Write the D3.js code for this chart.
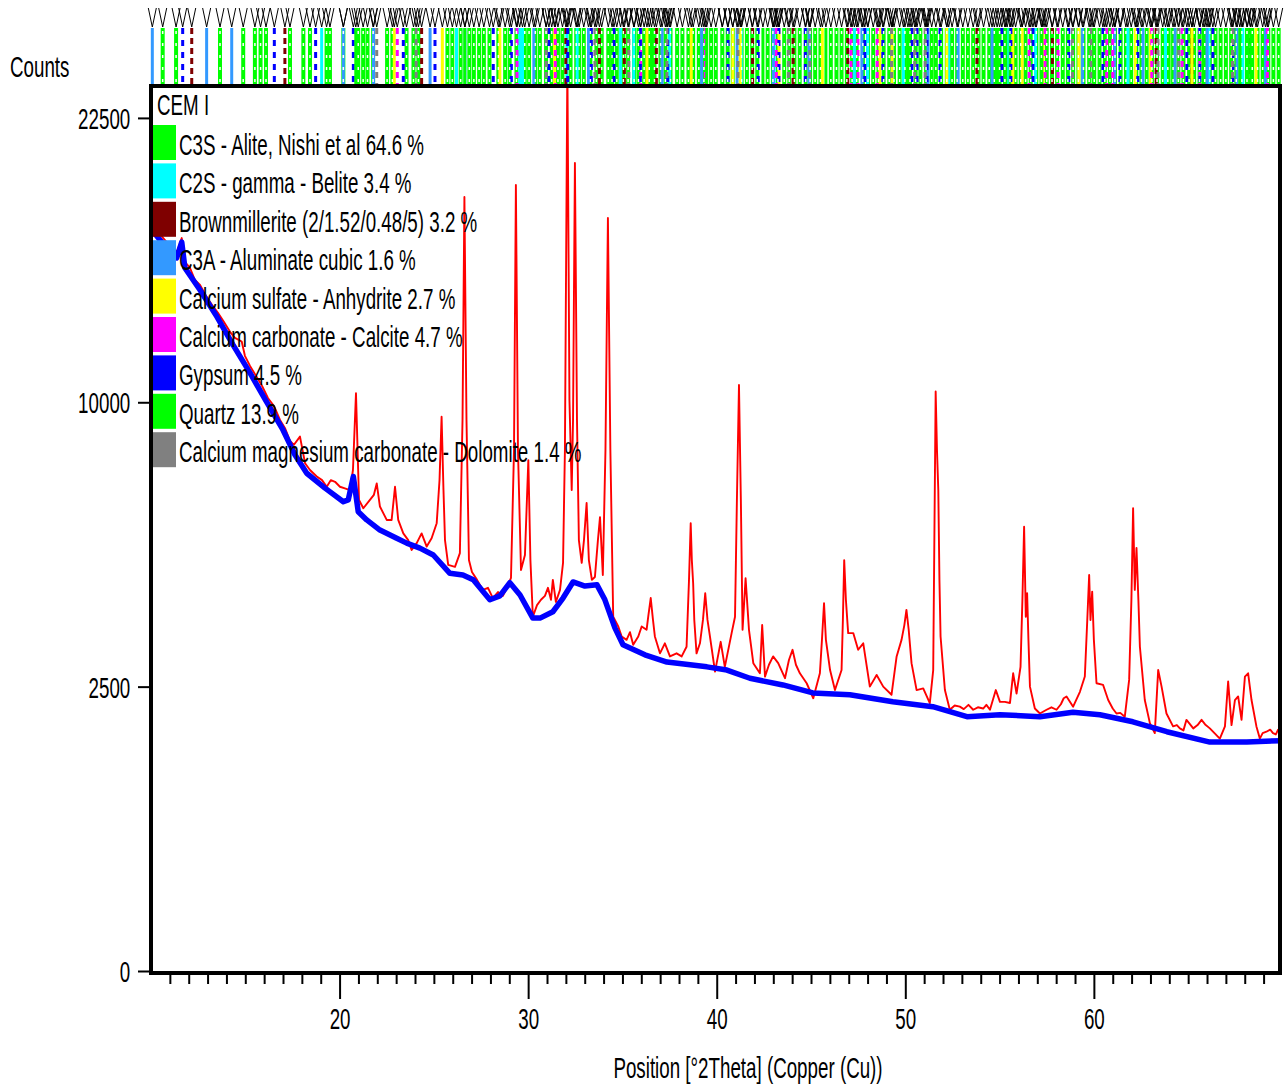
<!DOCTYPE html>
<meta charset="utf-8">
<style>
 body { margin: 0; background: #fff; }
 svg { display: block; background: #fff; }
 text { font-family: "Liberation Sans", Arial, sans-serif; font-size: 29.5px; fill: #000; }
 .observed { fill: none; stroke: #ff0000; stroke-width: 1.9px; stroke-linejoin: round; }
 .background { fill: none; stroke: #0000ff; stroke-width: 5.5px; stroke-linejoin: round; stroke-linecap: round; }
 .tick line { stroke: #000; stroke-width: 2px; }
</style>
<svg width="1288" height="1084"></svg>
<script src="https://d3js.org/d3.v7.min.js"></script>
<script>

 // measured pattern, [2theta, counts]
 var observed = [
  [10.00,17160],[10.37,16890],[10.74,16520],[11.11,16160],[11.38,15990],[11.63,16610],[11.80,15540],[12.07,15280],
  [12.33,14760],[12.60,14550],[12.92,14090],[13.23,13720],[13.55,13390],[13.87,13020],[14.19,12630],[14.45,12390],
  [14.81,12250],[14.98,11700],[15.25,11320],[15.57,10950],[15.89,10580],[16.20,10150],[16.52,9870],[16.84,9390],
  [17.10,9120],[17.37,8690],[17.58,8560],[17.90,8830],[18.17,7970],[18.43,7760],[18.79,7560],[19.07,7450],
  [19.32,7250],[19.54,7450],[19.76,7400],[20.02,7250],[20.28,7200],[20.55,7150],[20.71,7760],[20.87,10320],
  [21.03,6860],[21.26,6620],[21.61,6860],[21.82,7010],[21.97,7350],[22.14,6670],[22.50,6290],[22.76,6290],
  [22.94,7250],[23.11,6290],[23.38,5920],[23.64,5740],[23.82,5480],[24.09,5660],[24.35,5920],[24.62,5570],
  [24.88,5790],[25.15,6200],[25.30,7450],[25.41,9500],[25.51,7150],[25.59,5740],[25.76,5100],[26.12,5050],
  [26.38,5400],[26.52,9390],[26.62,18520],[26.73,9390],[26.86,5220],[27.02,4920],[27.29,4730],[27.60,4490],
  [27.87,4540],[28.13,4300],[28.40,4440],[28.66,4350],[28.88,4540],[29.09,4780],[29.25,8390],[29.35,19100],
  [29.46,8390],[29.62,4970],[29.83,5350],[30.01,8070],[30.12,5220],[30.25,3880],[30.47,4140],[30.68,4260],
  [30.89,4350],[31.05,4540],[31.21,4260],[31.31,4730],[31.47,4210],[31.69,4490],[31.85,5150],[31.95,8390],
  [32.08,25500],[32.19,10080],[32.31,7150],[32.38,9390],[32.48,20190],[32.59,9390],[32.69,5740],[32.84,5150],
  [32.96,5740],[33.10,6770],[33.22,5220],[33.38,4730],[33.54,4800],[33.70,5740],[33.81,6370],[33.96,4850],
  [34.10,8390],[34.23,17530],[34.36,8390],[34.51,3880],[34.78,3670],[34.96,3460],[35.22,3390],[35.40,3550],
  [35.57,3290],[35.84,3460],[36.02,3670],[36.28,3600],[36.38,3920],[36.50,4300],[36.62,3810],[36.72,3460],
  [36.99,3120],[37.25,3320],[37.52,3060],[37.87,3120],[38.14,3060],[38.40,3250],[38.53,4730],[38.62,6200],
  [38.68,5220],[38.75,4650],[38.81,3810],[38.93,3120],[39.11,3320],[39.27,3810],[39.39,4410],[39.51,3810],
  [39.64,3460],[39.91,2770],[40.21,3350],[40.43,2860],[40.79,3530],[40.97,3880],[41.07,6860],[41.18,10620],
  [41.28,6860],[41.37,3600],[41.53,4770],[41.71,3600],[41.94,2930],[42.29,2740],[42.41,3700],[42.56,2680],
  [42.77,2900],[42.99,3060],[43.26,2930],[43.62,2650],[43.83,2990],[44.02,3190],[44.20,2900],[44.41,2740],
  [44.77,2560],[45.12,2300],[45.47,2740],[45.58,3390],[45.69,4180],[45.79,3390],[46.01,2800],[46.27,2440],
  [46.62,2800],[46.69,3810],[46.76,5220],[46.85,4260],[46.97,3530],[47.24,3530],[47.50,3190],[47.77,3320],
  [48.12,2500],[48.48,2710],[48.83,2500],[49.27,2360],[49.54,3060],[49.80,3390],[49.95,3700],[50.06,4030],
  [50.18,3600],[50.33,2930],[50.60,2440],[50.95,2470],[51.30,2220],[51.48,2800],[51.55,6290],[51.61,10380],
  [51.68,8390],[51.75,7150],[51.81,4730],[51.87,3460],[52.10,2440],[52.36,2110],[52.62,2180],[52.89,2160],
  [53.10,2120],[53.35,2190],[53.60,2110],[53.85,2150],[54.13,2130],[54.30,2190],[54.49,2110],[54.80,2440],
  [55.02,2240],[55.28,2240],[55.55,2220],[55.72,2740],[55.90,2380],[56.11,2860],[56.21,4260],[56.30,6100],
  [56.39,3880],[56.46,4410],[56.53,3390],[56.61,2500],[56.87,2130],[57.14,2050],[57.49,2110],[57.75,2150],
  [58.02,2110],[58.25,2200],[58.40,2300],[58.55,2330],[58.90,2160],[59.26,2410],[59.52,2680],[59.65,3810],
  [59.75,4850],[59.82,3810],[59.91,4450],[60.00,3390],[60.14,2560],[60.49,2530],[60.76,2270],[61.00,2130],
  [61.20,2050],[61.40,2060],[61.64,2000],[61.87,2620],[61.99,4260],[62.08,6620],[62.17,4490],[62.26,5530],
  [62.36,4260],[62.44,3250],[62.70,2270],[62.97,1900],[63.23,1750],[63.41,2800],[63.59,2500],[63.85,2050],
  [64.20,1850],[64.40,1870],[64.56,1820],[64.75,1790],[64.91,1950],[65.05,1900],[65.27,1820],[65.50,1870],
  [65.71,1950],[65.90,1880],[66.15,1820],[66.68,1670],[66.95,1850],[67.12,2590],[67.30,1870],[67.48,2270],
  [67.65,2330],[67.83,1950],[68.01,2680],[68.18,2740],[68.36,2270],[68.62,1850],[68.80,1670],[68.95,1750],
  [69.15,1770],[69.35,1800],[69.50,1750],[69.65,1730],[69.77,1800],[69.87,1780]
 ];

 // fitted background, [2theta, counts]
 var background = [
  [10.00,17020],[10.74,16250],[11.36,15720],[11.63,16430],[11.80,15280],[12.60,14340],[13.50,13230],[14.35,12120],
  [15.25,11060],[16.10,10050],[17.00,9050],[17.64,8230],[18.26,7660],[19.23,7210],[20.20,6810],[20.46,6860],
  [20.73,7560],[20.99,6520],[21.44,6290],[22.14,6010],[23.03,5790],[23.56,5660],[24.26,5530],[24.97,5350],
  [25.85,4890],[26.54,4850],[27.09,4730],[27.97,4260],[28.50,4350],[29.03,4660],[29.57,4370],[30.25,3850],
  [30.63,3850],[31.31,3990],[31.85,4300],[32.38,4680],[33.01,4580],[33.65,4610],[34.07,4260],[34.60,3640],
  [35.03,3290],[36.19,3090],[37.36,2950],[39.48,2860],[40.54,2800],[41.76,2650],[43.51,2530],[45.10,2390],
  [47.06,2360],[49.34,2240],[51.46,2160],[53.27,2000],[55.02,2030],[57.14,2000],[58.89,2070],[60.32,2030],
  [62.07,1920],[63.87,1770],[66.15,1620],[68.11,1620],[69.87,1640]
 ];

 var phaseNames = ["C3S - Alite, Nishi et al", "C2S - gamma - Belite", "Brownmillerite (2/1.52/0.48/5)",
                   "C3A - Aluminate cubic", "Calcium sulfate - Anhydrite", "Calcium carbonate - Calcite",
                   "Gypsum", "Quartz", "Calcium magnesium carbonate - Dolomite"];
 var phasePercent = ["64.6", "3.4", "3.2", "1.6", "2.7", "4.7", "4.5", "13.9", "1.4"];
 var phaseColors = ["#00ff00", "#00ffff", "#7f0000", "#3399ff", "#ffff00", "#ff00ff", "#0000ff", "#00ff00", "#808080"];

 // reference line positions per phase (same order as the legend)
 var c3sLines = [10.62, 11.33, 13.66, 14.89, 15.51, 15.81, 16.10, 17.37, 18.08, 18.43, 19.31, 19.49, 20.20, 20.99,
  21.25, 21.48, 21.78, 22.52, 22.80, 23.55, 23.92, 24.18, 25.72, 25.98, 26.42, 26.88, 27.12, 27.40, 27.65, 27.95,
  28.42, 28.78, 29.02, 29.38, 29.82, 30.05, 30.38, 30.62, 30.95, 31.25, 31.58, 31.82, 32.25, 32.55, 32.70, 32.95,
  33.30, 33.62, 33.90, 34.25, 34.45, 34.70, 35.05, 35.30, 35.62, 35.85, 36.15, 36.42, 36.70, 37.02, 37.28, 37.55,
  37.90, 38.18, 38.50, 38.75, 39.05, 39.32, 39.70, 39.95, 40.30, 40.58, 40.85, 41.32, 41.60, 41.88, 42.15, 42.70,
  42.98, 43.25, 43.58, 43.85, 44.12, 44.40, 44.72, 44.95, 45.22, 45.50, 46.05, 46.35, 46.62, 46.90, 47.18, 47.42,
  47.75, 48.02, 48.30, 48.58, 48.85, 49.15, 49.40, 49.70, 49.98, 50.25, 50.55, 50.80, 51.10, 51.40, 51.62, 51.90,
  52.20, 52.48, 52.75, 53.05, 53.32, 53.60, 53.88, 54.15, 54.45, 54.72, 55.00, 55.28, 55.55, 55.85, 56.12, 56.38,
  56.65, 56.95, 57.22, 57.50, 57.78, 58.05, 58.35, 58.62, 58.90, 59.18, 59.45, 59.75, 60.02, 60.30, 60.58, 60.85,
  61.12, 61.42, 61.70, 61.98, 62.25, 62.52, 62.80, 63.08, 63.35, 63.65, 63.92, 64.20, 64.48, 64.75, 65.05, 65.32,
  65.60, 65.88, 66.15, 66.45, 66.72, 67.00, 67.28, 67.55, 67.85, 68.12, 68.40, 68.68, 68.95, 69.25, 69.52, 69.80];
 var c2sLines = [19.05, 26.20, 29.55, 29.70, 32.05, 32.60, 34.90, 35.60, 37.50, 41.30, 43.05, 47.30, 48.00, 49.90,
  52.30, 55.40, 56.90, 61.80, 63.80, 66.10, 67.90];
 var brownLines = [12.16, 17.10, 24.35, 32.00, 33.78, 35.10, 36.80, 41.90, 44.05, 46.95, 53.80, 57.80, 61.10, 63.30,
  65.20, 68.30];
 var c3aLines = [10.07, 12.95, 14.28, 20.20, 21.80, 24.80, 26.65, 30.30, 33.20, 37.10, 39.20, 41.08, 43.00, 44.90,
  47.70, 49.30, 51.20, 52.80, 54.60, 56.20, 59.40, 61.10, 62.60, 64.30, 66.00, 67.60, 69.10];
 var anhydriteLines = [22.90, 25.45, 28.50, 31.40, 36.30, 38.65, 40.85, 41.25, 43.30, 45.60, 48.65, 49.30, 52.20,
  55.70, 56.20, 57.30, 59.20, 62.20, 63.00, 65.20, 68.60];
 var calciteLines = [23.06, 29.41, 31.44, 35.97, 39.40, 43.16, 47.12, 47.49, 48.51, 56.57, 57.41, 58.10, 60.68,
  61.00, 63.07, 64.68, 65.62, 69.20];
 var gypsumLines = [11.68, 16.54, 18.73, 20.73, 23.38, 25.06, 28.15, 29.11, 31.10, 32.10, 33.35, 34.55, 35.95,
  37.40, 40.60, 42.20, 43.30, 44.70, 47.85, 48.81, 50.35, 50.62, 51.15, 51.84, 55.12, 55.60, 56.77, 58.67, 60.48,
  61.38, 62.33, 64.93, 65.62, 66.31, 67.37];
 var quartzLines = [20.86, 26.64, 36.54, 39.47, 40.29, 42.45, 45.79, 50.14, 54.87, 55.33, 57.24, 59.96, 63.99,
  65.79, 67.74, 68.14, 68.31];
 var dolomiteLines = [21.97, 24.06, 30.96, 33.54, 35.34, 37.36, 41.13, 43.80, 44.94, 49.27, 50.50, 51.05, 58.87,
  59.84, 63.40, 64.50, 67.35];
 var phaseLines = [c3sLines, c2sLines, brownLines, c3aLines, anhydriteLines, calciteLines, gypsumLines, quartzLines, dolomiteLines];
 var phaseDash = ["none", "none", "6,4", "none", "none", "6,5", "6,6", "none", "6,5"];

 var yTicks = [0, 2500, 10000, 22500];
 var xMajor = [20, 30, 40, 50, 60];
 var xMinor = [11, 12, 13, 14, 15, 16, 17, 18, 19, 21, 22, 23, 24, 25, 26, 27, 28, 29, 31, 32, 33, 34, 35, 36, 37, 38, 39,
  41, 42, 43, 44, 45, 46, 47, 48, 49, 51, 52, 53, 54, 55, 56, 57, 58, 59, 61, 62, 63, 64, 65, 66, 67, 68, 69];

 var svg = d3.select("svg");
 var plotLeft = 151, plotRight = 1280, plotTop = 87, plotBottom = 971;
 var sx = 0.636; // the original uses a very condensed face

 var x = d3.scaleLinear().domain([10, 69.87]).range([plotLeft, plotRight]);
 var y = d3.scaleSqrt().domain([0, 24160]).range([plotBottom, plotTop]);

 function label(g, str, px, py, anchor) {
   return g.append("text")
     .attr("transform", "translate(" + px + "," + py + ") scale(" + sx + ",1)")
     .attr("text-anchor", anchor || "start")
     .text(str);
 }

 // reference line strip above the plot
 var strip = svg.append("g");
 phaseLines.forEach(function(lines, i) {
   strip.append("g").selectAll("line")
     .data(lines)
     .enter().append("line")
     .attr("x1", function(d) { return x(d); })
     .attr("x2", function(d) { return x(d); })
     .attr("y1", 28).attr("y2", 84)
     .attr("stroke", phaseColors[i])
     .attr("stroke-width", i == 0 ? 4 : 3)
     .attr("stroke-dasharray", phaseDash[i]);
 });
 // white dots inside the alite lines
 strip.append("g").selectAll("line")
   .data(c3sLines)
   .enter().append("line")
   .attr("x1", function(d) { return x(d); })
   .attr("x2", function(d) { return x(d); })
   .attr("y1", 31).attr("y2", 84)
   .attr("stroke", "#fff")
   .attr("stroke-width", 1.5)
   .attr("stroke-dasharray", "3,9");

 strip.append("g").selectAll("path")
   .data(d3.merge(phaseLines))
   .enter().append("path")
   .attr("d", function(d) { var p = x(d); return "M" + (p - 4) + ",8L" + p + ",27L" + (p + 4) + ",8"; })
   .attr("fill", "none")
   .attr("stroke", "#000")
   .attr("stroke-width", 1);

 // pattern
 svg.append("clipPath").attr("id", "plot-clip")
   .append("rect").attr("x", plotLeft).attr("y", plotTop)
   .attr("width", plotRight - plotLeft).attr("height", plotBottom - plotTop);

 var line = d3.line()
   .x(function(d) { return x(d[0]); })
   .y(function(d) { return y(d[1]); });

 var lines = svg.append("g").attr("clip-path", "url(#plot-clip)");
 lines.append("path").attr("class", "observed").attr("d", line(observed));
 lines.append("path").attr("class", "background").attr("d", line(background));

 // legend
 var legend = svg.append("g");
 label(legend, "CEM I", 157, 115);
 var item = legend.selectAll("g.item")
   .data(phaseNames)
   .enter().append("g")
   .attr("class", "item")
   .attr("transform", function(d, i) { return "translate(153," + (125 + i * 38.4) + ")"; });
 item.append("rect")
   .attr("width", 23).attr("height", 35)
   .attr("fill", function(d, i) { return phaseColors[i]; });
 item.each(function(d, i) {
   label(d3.select(this), d + " " + phasePercent[i] + " %", 26, 30);
 });

 // frame
 svg.append("rect")
   .attr("x", plotLeft).attr("y", plotTop - 1)
   .attr("width", plotRight - plotLeft).attr("height", plotBottom + 3 - plotTop)
   .attr("fill", "none").attr("stroke", "#000").attr("stroke-width", 4);

 // axes
 var yAxis = svg.append("g")
   .attr("transform", "translate(" + (plotLeft - 1) + ",0)")
   .call(d3.axisLeft(y).tickValues(yTicks).tickSize(12).tickPadding(19).tickFormat(d3.format("d")));
 yAxis.select(".domain").remove();
 yAxis.selectAll("text")
   .attr("font-family", null).attr("font-size", null)
   .attr("dy", "0.36em")
   .attr("transform", "scale(" + sx + ",1)");

 var xMinorAxis = svg.append("g")
   .attr("transform", "translate(0," + (plotBottom + 4) + ")")
   .call(d3.axisBottom(x).tickValues(xMinor).tickSize(9).tickFormat(""));
 xMinorAxis.select(".domain").remove();

 var xAxis = svg.append("g")
   .attr("transform", "translate(0," + (plotBottom + 4) + ")")
   .call(d3.axisBottom(x).tickValues(xMajor).tickSize(24).tickPadding(9).tickFormat(d3.format("d")));
 xAxis.select(".domain").remove();
 xAxis.selectAll("text")
   .attr("font-family", null).attr("font-size", null)
   .attr("transform", "scale(" + sx + ",1)");

 label(svg, "Counts", 10, 77);
 label(svg, "Position [°2Theta] (Copper (Cu))", 748, 1078, "middle");

</script>
